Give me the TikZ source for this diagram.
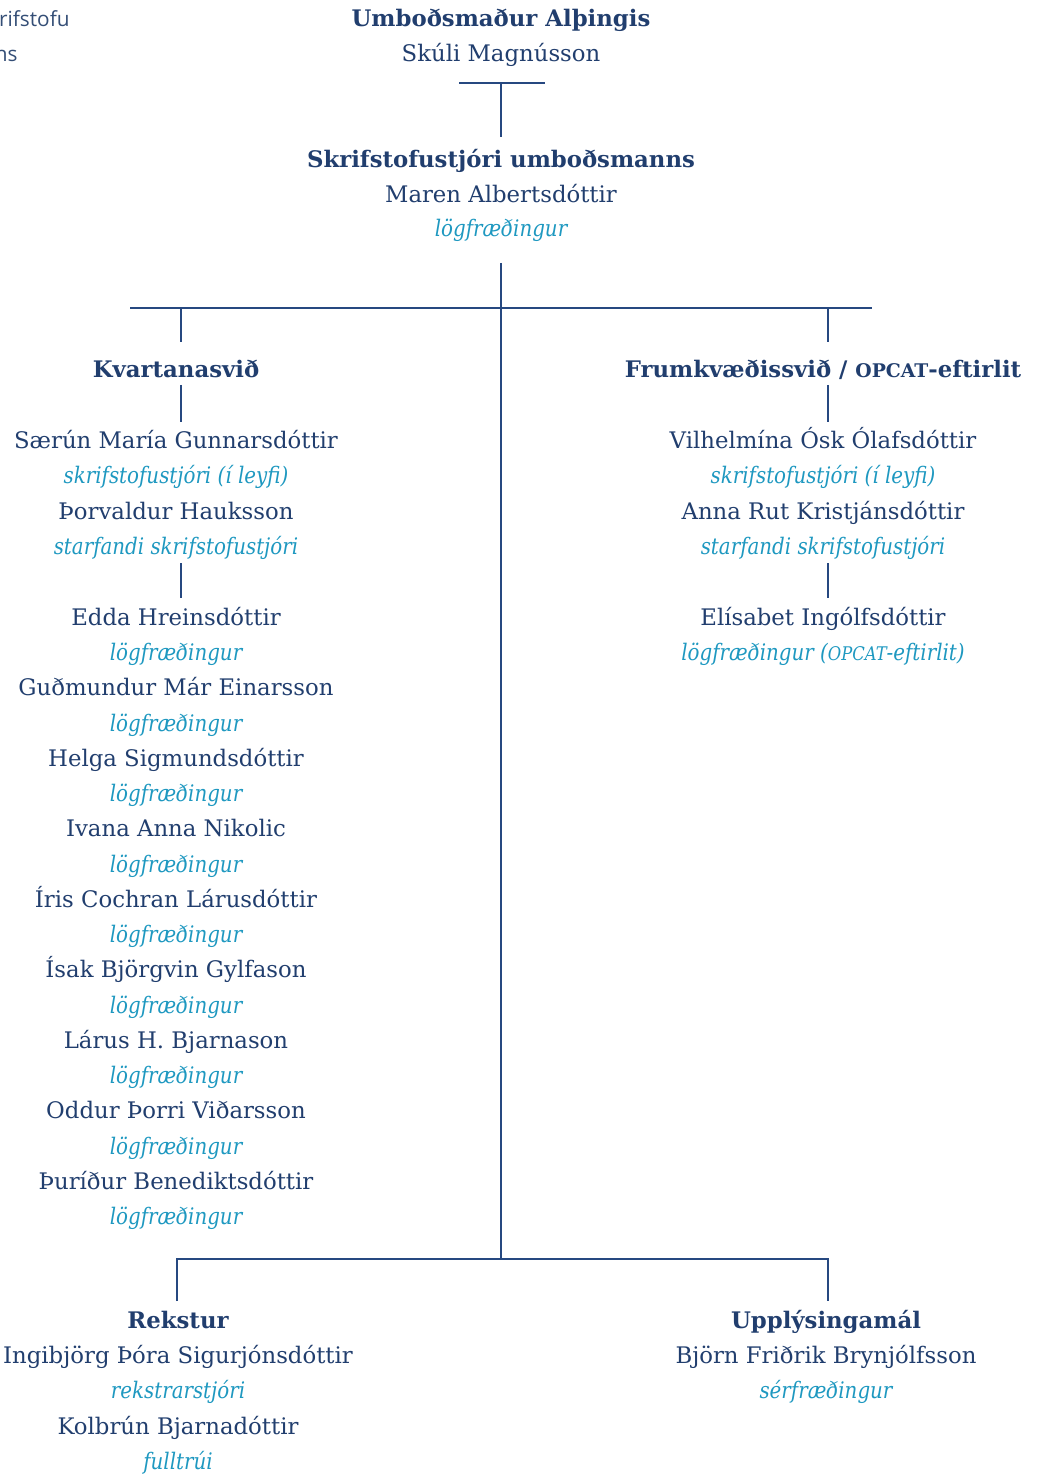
\documentclass[tikz,border=0pt]{standalone}
\usepackage{fontspec}
\setmainfont{DejaVu Serif}
\newfontfamily\rolefont{DejaVu Serif}[FakeStretch=0.87]
\newfontfamily\cornerfont{Open Sans}
\usetikzlibrary{positioning}

\definecolor{orgnavy}{RGB}{33,62,110}
\definecolor{orgline}{RGB}{38,72,128}
\definecolor{orgrole}{RGB}{30,152,192}
\definecolor{orgcorner}{RGB}{52,78,118}

\newcommand{\opcat}{{\fontsize{9.4}{10}\selectfont OPCAT}}

\tikzset{
    unit/.style={anchor=base, inner sep=0pt, text=orgnavy, font=\bfseries\fontsize{11.4}{14}\selectfont},
    person/.style={anchor=base, inner sep=0pt, text=orgnavy, font=\fontsize{11.4}{14}\selectfont},
    role/.style={anchor=base, inner sep=0pt, text=orgrole, font=\rolefont\itshape\fontsize{11.4}{14}\selectfont},
    corner/.style={anchor=base east, inner sep=0pt, text=orgcorner, font=\cornerfont\fontsize{10.4}{12}\selectfont},
    tie/.style={draw=orgline, line width=1pt}
}

\begin{document}
\begin{tikzpicture}[x=0.5pt, y=-0.5pt]
    \useasboundingbox (0,0) rectangle (1038,1475);

    % cut-off text at the left edge
    \node[corner] (cornerA) at (70,27) {krifstofu};
    \node[corner] (cornerB) at (18,62) {ns};

    % top
    \node[unit] (ombud) at (501,27) {Umboðsmaður Alþingis};
    \node[person] (skuli) at (501,62) {Skúli Magnússon};
    \node[unit] (chief) at (501,168) {Skrifstofustjóri umboðsmanns};
    \node[person] (maren) at (501,203) {Maren Albertsdóttir};
    \node[role] (marenrole) at (501,237) {lögfræðingur};

    \coordinate (topbarL) at (459,83);
    \coordinate (topbarR) at (545,83);
    \coordinate (topdrop) at (501,83);
    \coordinate (chiefin) at (501,137);
    \draw[tie] (topbarL) -- (topbarR);
    \draw[tie] (topdrop) -- (chiefin);

    % spine and branches
    \coordinate (spine) at (501,263);
    \coordinate (hubL) at (130,308);
    \coordinate (hubR) at (872,308);
    \coordinate (kvtop) at (181,308);
    \coordinate (kvend) at (181,342);
    \coordinate (frtop) at (828,308);
    \coordinate (frend) at (828,342);
    \coordinate (foot) at (501,1259);
    \coordinate (footL) at (177,1259);
    \coordinate (footLend) at (177,1301);
    \coordinate (footR) at (828,1259);
    \coordinate (footRend) at (828,1301);
    \draw[tie] (spine) -- (foot);
    \draw[tie] (hubL) -- (hubR);
    \draw[tie] (kvtop) -- (kvend);
    \draw[tie] (frtop) -- (frend);
    \draw[tie] (footLend) -- (footL) -- (footR) -- (footRend);

    % Kvartanasvid
    \node[unit] (kvart) at (176,378) {Kvartanasvið};
    \node[person] (saerun) at (176,449) {Særún María Gunnarsdóttir};
    \node[role] (saerunrole) at (176,484) {skrifstofustjóri (í leyfi)};
    \node[person] (thorv) at (176,519) {Þorvaldur Hauksson};
    \node[role] (thorvrole) at (176,554) {starfandi skrifstofustjóri};
    \node[person] (edda) at (176,625) {Edda Hreinsdóttir};
    \node[role] (eddarole) at (176,660) {lögfræðingur};
    \node[person] (gudm) at (176,695) {Guðmundur Már Einarsson};
    \node[role] (gudmrole) at (176,731) {lögfræðingur};
    \node[person] (helga) at (176,766) {Helga Sigmundsdóttir};
    \node[role] (helgarole) at (176,801) {lögfræðingur};
    \node[person] (ivana) at (176,836) {Ivana Anna Nikolic};
    \node[role] (ivanarole) at (176,872) {lögfræðingur};
    \node[person] (iris) at (176,907) {Íris Cochran Lárusdóttir};
    \node[role] (irisrole) at (176,942) {lögfræðingur};
    \node[person] (isak) at (176,977) {Ísak Björgvin Gylfason};
    \node[role] (isakrole) at (176,1013) {lögfræðingur};
    \node[person] (larus) at (176,1048) {Lárus H. Bjarnason};
    \node[role] (larusrole) at (176,1083) {lögfræðingur};
    \node[person] (oddur) at (176,1118) {Oddur Þorri Viðarsson};
    \node[role] (oddurrole) at (176,1154) {lögfræðingur};
    \node[person] (thurid) at (176,1189) {Þuríður Benediktsdóttir};
    \node[role] (thuridrole) at (176,1224) {lögfræðingur};

    \coordinate (kvA) at (181,385);
    \coordinate (kvB) at (181,422);
    \coordinate (kvC) at (181,563);
    \coordinate (kvD) at (181,598);
    \draw[tie] (kvA) -- (kvB);
    \draw[tie] (kvC) -- (kvD);

    % Frumkvaedissvid
    \node[unit] (frumk) at (823,378) {Frumkvæðissvið / \opcat-eftirlit};
    \node[person] (vilh) at (823,449) {Vilhelmína Ósk Ólafsdóttir};
    \node[role] (vilhrole) at (823,484) {skrifstofustjóri (í leyfi)};
    \node[person] (anna) at (823,519) {Anna Rut Kristjánsdóttir};
    \node[role] (annarole) at (823,554) {starfandi skrifstofustjóri};
    \node[person] (elis) at (823,625) {Elísabet Ingólfsdóttir};
    \node[role] (elisrole) at (823,660) {lögfræðingur (\opcat-eftirlit)};

    \coordinate (frA) at (828,385);
    \coordinate (frB) at (828,422);
    \coordinate (frC) at (828,563);
    \coordinate (frD) at (828,598);
    \draw[tie] (frA) -- (frB);
    \draw[tie] (frC) -- (frD);

    % Rekstur
    \node[unit] (rekst) at (178,1328) {Rekstur};
    \node[person] (ingib) at (178,1363) {Ingibjörg Þóra Sigurjónsdóttir};
    \node[role] (ingibrole) at (178,1398) {rekstrarstjóri};
    \node[person] (kolb) at (178,1434) {Kolbrún Bjarnadóttir};
    \node[role] (kolbrole) at (178,1469) {fulltrúi};

    % Upplysingamal
    \node[unit] (uppl) at (826,1328) {Upplýsingamál};
    \node[person] (bjorn) at (826,1363) {Björn Friðrik Brynjólfsson};
    \node[role] (bjornrole) at (826,1398) {sérfræðingur};
\end{tikzpicture}
\end{document}
